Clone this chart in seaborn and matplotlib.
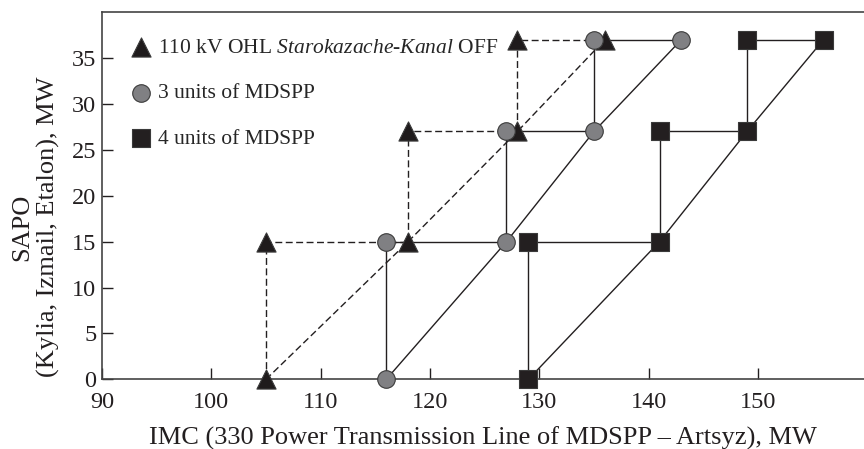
import pandas as pd
import seaborn as sns
import matplotlib.pyplot as plt

# levels of SAPO load (MW) and the IMC limits for each regime
levels = [0, 15, 27, 37]
tri_x = [105, 118, 128, 136]
circ_x = [116, 127, 135, 143]
sq_x = [129, 141, 149, 156]

names = ["110 kV OHL $\\it{Starokazache}$-$\\it{Kanal}$ OFF",
         "3 units of MDSPP",
         "4 units of MDSPP"]
markers = ["^", "o", "s"]
fills = ["#1f1b1c", "#808083", "#231f20"]
styles = ["--", "-", "-"]

sns.set_style("ticks")
plt.rcParams["font.family"] = ["Liberation Serif", "DejaVu Serif"]
plt.rcParams["mathtext.fontset"] = "custom"
plt.rcParams["mathtext.it"] = "Liberation Serif:italic"
plt.rcParams["mathtext.rm"] = "Liberation Serif"

fig = plt.figure(figsize=(8.64, 4.49), dpi=100)
ax = fig.add_axes([0.118, 0.155, 0.882, 0.818])

line_col = "#231f20"
for name, xs, ls in zip(names, [tri_x, circ_x, sq_x], styles):
    # diagonal through the corner points
    diag = pd.DataFrame({"x": xs, "y": levels})
    sns.lineplot(data=diag, x="x", y="y", sort=False, estimator=None,
                 color=line_col, lw=1.0, ax=ax, legend=False)
    # staircase
    sx, sy = [], []
    for i in range(len(xs)):
        sx.append(xs[i])
        sy.append(levels[i])
        if i + 1 < len(xs):
            sx.append(xs[i])
            sy.append(levels[i + 1])
    stair = pd.DataFrame({"x": sx, "y": sy})
    sns.lineplot(data=stair, x="x", y="y", sort=False, estimator=None,
                 color=line_col, lw=1.0, ax=ax, legend=False)
    if ls == "--":
        for ln in ax.lines[-2:]:
            ln.set_dashes((5, 2.5))

for name, xs, m, fc in zip(names, [tri_x, circ_x, sq_x], markers, fills):
    px = xs + xs[:-1]
    py = levels + levels[1:]
    pts = pd.DataFrame({"x": px, "y": py})
    sns.scatterplot(data=pts, x="x", y="y", marker=m, s=190 if m == "^" else 160,
                    color=fc, edgecolor="#3a3a3a", linewidth=0.8, ax=ax,
                    label=name, zorder=5, clip_on=False)

ax.set_xlim(90, 159.7)
ax.set_ylim(0, 40)
ax.set_xticks(range(90, 151, 10))
ax.set_yticks(range(0, 36, 5))
ax.tick_params(direction="in", length=8, width=1, labelsize=17.5,
               colors="#231f20")
ax.tick_params(axis="x", pad=9)
ax.tick_params(axis="y", pad=4)
for side in ["left", "top", "bottom"]:
    ax.spines[side].set_linewidth(1.2)
    ax.spines[side].set_color("#444444")
ax.spines["right"].set_visible(False)

ax.set_xlabel("IMC (330 Power Transmission Line of MDSPP – Artsyz), MW",
              fontsize=19, color="#231f20", labelpad=10)
ax.set_ylabel("SAPO\n(Kylia, Izmail, Etalon), MW", fontsize=19,
              color="#231f20", linespacing=1.2)
ax.yaxis.set_label_coords(-0.055, 0.415)

ax.legend(loc="upper left", frameon=False, fontsize=15.5,
          handlelength=1.2, handletextpad=0.2, labelspacing=1.18,
          borderaxespad=0.8, borderpad=0.4)

fig.savefig("out.png", dpi=100)
